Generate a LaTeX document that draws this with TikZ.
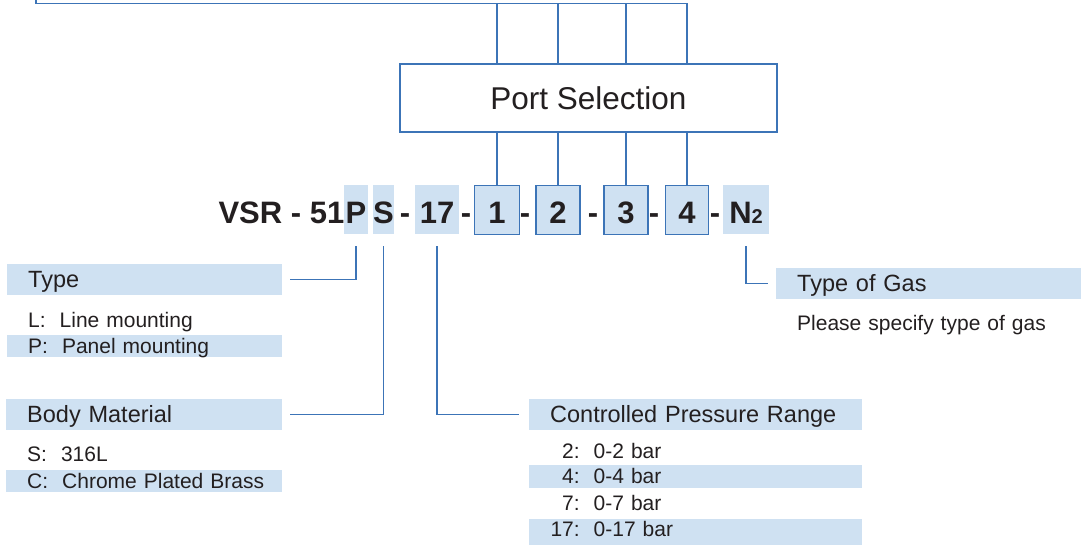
\documentclass[tikz,border=0pt]{standalone}
\usepackage{fontspec}
\setmainfont{Liberation Sans}
\definecolor{lineblue}{RGB}{60,116,183}
\definecolor{bandblue}{RGB}{207,225,242}
\definecolor{ink}{RGB}{35,31,32}

\begin{document}
\begin{tikzpicture}[x=1pt,y=-1pt,
    link/.style={draw=lineblue,line width=1.4pt},
    code/.style={font=\fontsize{31}{31}\selectfont\bfseries,text=ink,inner sep=0pt,
      text height=28pt,text depth=0pt,minimum height=49pt},
    slot/.style={code,fill=bandblue},
    port/.style={slot,draw=lineblue,line width=1.4pt},
    band/.style={anchor=north west,inner xsep=21pt,inner ysep=0pt,align=left,text=ink,
      minimum height=22pt,text height=15pt,text depth=1pt,font=\fontsize{21}{21}\selectfont},
    hl/.style={fill=bandblue},
    hdr/.style={band,hl,minimum height=31pt,text height=16pt,font=\fontsize{23.5}{23.5}\selectfont}]
\useasboundingbox (0,0) rectangle (1081,545);

% order code
\node[code,anchor=base east,minimum height=0pt] (vsr) at (344.5,224) {VSR - 51};
\node[slot,minimum width=24.5pt] (p) at (356,210) {P};
\node[slot,minimum width=21pt] (s) at (383.5,210) {S};
\node[slot,minimum width=44pt] (r) at (437,210) {17};
\node[port,minimum width=45pt] (b1) at (497,210) {1};
\node[port,minimum width=44pt] (b2) at (558,210) {2};
\node[port,minimum width=44pt] (b3) at (626,210) {3};
\node[port,minimum width=43pt] (b4) at (687,210) {4};
\node[slot,minimum width=46pt] (n) at (746,210) {N{\fontsize{20}{20}\selectfont 2}\hspace{9pt}};
\foreach \x in {405,466,525,593,654,715}
  \node[code,anchor=base,minimum height=0pt] (d\x) at (\x,224) {-};

% port selection
\node[draw=lineblue,line width=1.4pt,fill=white,minimum width=377pt,minimum height=68pt,
  inner sep=0pt,text=ink,font=\fontsize{31.5}{31.5}\selectfont] (sel) at (588.5,98) {Port Selection};
\coordinate (tick) at (36,0);
\coordinate (top) at (36,3.5);
\draw[link] (tick) -- (top) -| (b4.north |- sel.north);
\foreach \b in {b1,b2,b3}
  \draw[link] (\b.north |- top) -- (\b.north |- sel.north);
\foreach \b in {b1,b2,b3,b4}
  \draw[link] (\b.north) -- (\b.north |- sel.south);

% type
\node[hdr,text width=233pt] (type) at (7,264) {Type};
\node[band,text width=233pt] (l) at (7,309.7) {L:~~Line mounting};
\node[band,hl,text width=233pt] (pm) at (7,335) {P:~~Panel mounting};

% body material
\node[hdr,text width=234pt] (body) at (6,399) {Body Material};
\node[band,text width=234pt] (ss) at (6,443.7) {S:~~316L};
\node[band,hl,text width=234pt] (cb) at (6,470) {\mbox{C:~~Chrome Plated Brass}};

% pressure range
\node[hdr,text width=291pt] (cpr) at (529,399) {Controlled Pressure Range};
\node[band,text width=291pt] (r2) at (529,440) {\makebox[29.5pt][r]{2:}~~0-2 bar};
\node[band,hl,text width=291pt,minimum height=23pt] (r4) at (529,465) {\makebox[29.5pt][r]{4:}~~0-4 bar};
\node[band,text width=291pt] (r7) at (529,492) {\makebox[29.5pt][r]{7:}~~0-7 bar};
\node[band,hl,text width=291pt,minimum height=26pt,text depth=5.5pt] (r17) at (529,519) {\makebox[29.5pt][r]{17:}~~0-17 bar};

% gas
\node[hdr,text width=263pt] (gashdr) at (776,268) {Type of Gas};
\node[band,text width=263pt] (spec) at (776,312.7) {Please specify type of gas};

% leaders
\draw[link] ([yshift=-11.5pt]p.south) |- ([xshift=8pt]type.east);
\draw[link] ([yshift=-11.5pt]s.south) |- ([xshift=8pt]body.east);
\draw[link] ([yshift=-11.5pt]r.south) |- ([xshift=-10pt]cpr.west);
\draw[link] ([yshift=-11.5pt]n.south) |- ([xshift=-8pt]gashdr.west);
\end{tikzpicture}
\end{document}
